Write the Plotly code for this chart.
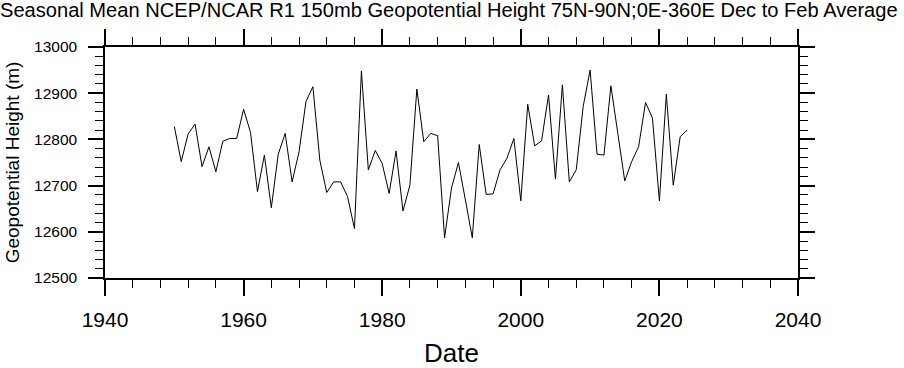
import plotly.graph_objects as go

years = list(range(1950, 2025))
heights = [
    12828, 12752, 12812, 12833, 12741, 12784, 12730, 12796, 12802, 12802,
    12865, 12815, 12687, 12766, 12652, 12768, 12813, 12708, 12773, 12882,
    12914, 12755, 12685, 12708, 12708, 12676, 12607, 12948, 12734, 12776,
    12748, 12683, 12775, 12645, 12701, 12909, 12795, 12813, 12808, 12587,
    12695, 12750, 12669, 12587, 12789, 12681, 12682, 12734, 12759, 12802,
    12667, 12876, 12786, 12797, 12896, 12714, 12918, 12708, 12734, 12871,
    12950, 12768, 12766, 12916, 12813, 12710, 12752, 12784, 12880, 12846,
    12667, 12898, 12701, 12806, 12820,
]

title_text = "Seasonal Mean NCEP/NCAR R1 150mb Geopotential Height 75N-90N;0E-360E Dec to Feb Average"
x_title = "Date"
y_title = "Geopotential Height (m)"

fig = go.Figure()
fig.add_trace(go.Scatter(x=years, y=heights, mode="lines",
                         line=dict(color="black", width=1), showlegend=False))

fig.update_layout(
    width=904, height=368,
    margin=dict(l=105, r=106, t=47, b=90, autoexpand=False),
    paper_bgcolor="white", plot_bgcolor="white",
    font=dict(family="Liberation Sans, Helvetica, Arial", color="black"),
    title=dict(text=title_text, x=0, xanchor="left", y=0.972, yanchor="middle",
               font=dict(size=20.1), pad=dict(l=0)),
)

fig.update_xaxes(
    range=[1940, 2040], tickmode="linear", tick0=1940, dtick=20,
    ticks="outside", ticklen=16, tickwidth=2, tickcolor="black",
    showline=True, linecolor="black", linewidth=1.5, mirror="ticks",
    showgrid=False, zeroline=False, automargin=False,
    tickfont=dict(size=21), ticklabelstandoff=6,
    minor=dict(tickmode="linear", dtick=4, ticks="outside", ticklen=8,
               tickwidth=1, tickcolor="black", showgrid=False),
    title=dict(text=x_title, font=dict(size=26), standoff=14),
)
fig.update_yaxes(
    range=[12500, 13000], tickmode="linear", tick0=12500, dtick=100,
    tickformat="d",
    ticks="outside", ticklen=15, tickwidth=2, tickcolor="black",
    showline=True, linecolor="black", linewidth=1.5, mirror="ticks",
    showgrid=False, zeroline=False, automargin=False,
    tickfont=dict(size=15.5), ticklabelstandoff=8,
    minor=dict(tickmode="linear", dtick=20, ticks="outside", ticklen=8,
               tickwidth=1, tickcolor="black", showgrid=False),
    title=dict(text=y_title, font=dict(size=19), standoff=9),
)

fig.write_html("out.html", config={"displayModeBar": False},
               post_script="document.body.style.margin='0';document.body.style.overflow='hidden';")
